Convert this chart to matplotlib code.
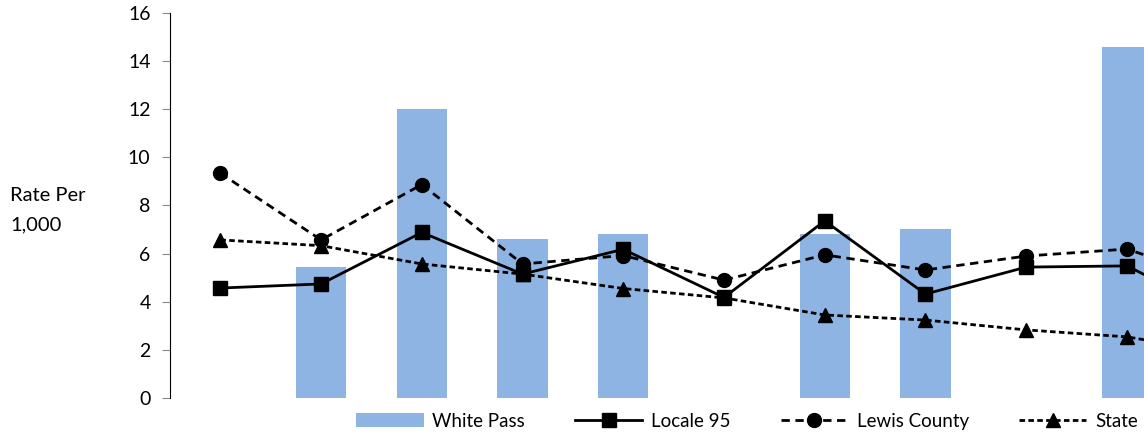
import numpy as np
import matplotlib.pyplot as plt

plt.rcParams['font.family'] = ['Lato', 'DejaVu Sans']

# Werte (rechter Rand abgeschnitten)
categories = list(range(11))
white_pass = [np.nan, 5.44, 12.01, 6.61, 6.8, np.nan, 6.8, 7.02, np.nan, 14.59, np.nan]
locale_95 = [4.57, 4.74, 6.88, 5.15, 6.18, 4.18, 7.36, 4.32, 5.44, 5.49, 3.4]
lewis_county = [9.34, 6.57, 8.87, 5.57, 5.92, 4.9, 5.95, 5.32, 5.9, 6.19, 4.8]
state = [6.57, 6.33, 5.57, 5.15, 4.55, 4.16, 3.45, 3.24, 2.83, 2.54, 1.85]

fig = plt.figure(figsize=(11.44, 4.36), dpi=100)
ax = fig.add_axes([170 / 1144, 1 - 398 / 436, 1 - 170 / 1144, (398 - 13) / 436])

x = np.arange(len(categories))
bars = ax.bar(x, white_pass, width=0.5, color="#8EB4E3", label="White Pass", zorder=1)
l1, = ax.plot(x, locale_95, color="black", linewidth=2, marker="s", markersize=10,
              label="Locale 95", zorder=3)
l2, = ax.plot(x, lewis_county, color="black", linewidth=2, linestyle=(0, (3, 2)),
              marker="o", markersize=10, label="Lewis County", zorder=3)
l3, = ax.plot(x, state, color="black", linewidth=2, linestyle=(0, (2, 1.2)),
              marker="^", markersize=10, label="State", zorder=3)

ax.set_ylim(0, 16)
ax.set_yticks(range(0, 17, 2))
ax.set_xlim(-0.5, 9.17)
ax.set_xticks([])
for s in ["top", "right", "bottom"]:
    ax.spines[s].set_visible(False)
ax.spines["left"].set_color("black")
ax.tick_params(axis="y", length=6, color="#888888", labelsize=14, pad=8)

fig.text(10 / 1144, 1 - 210 / 436, "Rate Per\n1,000", ha="left", va="center",
         fontsize=14.5, linespacing=1.9)

fig.legend([bars, l1, l2, l3], ["White Pass", "Locale 95", "Lewis County", "State"],
           loc="center left", bbox_to_anchor=(356 / 1144, 1 - 421 / 436), ncol=4,
           frameon=False, fontsize=13.5, handlelength=3.6, handletextpad=0.48,
           columnspacing=2.65, borderpad=0, borderaxespad=0)

fig.savefig("out.png", dpi=100)
